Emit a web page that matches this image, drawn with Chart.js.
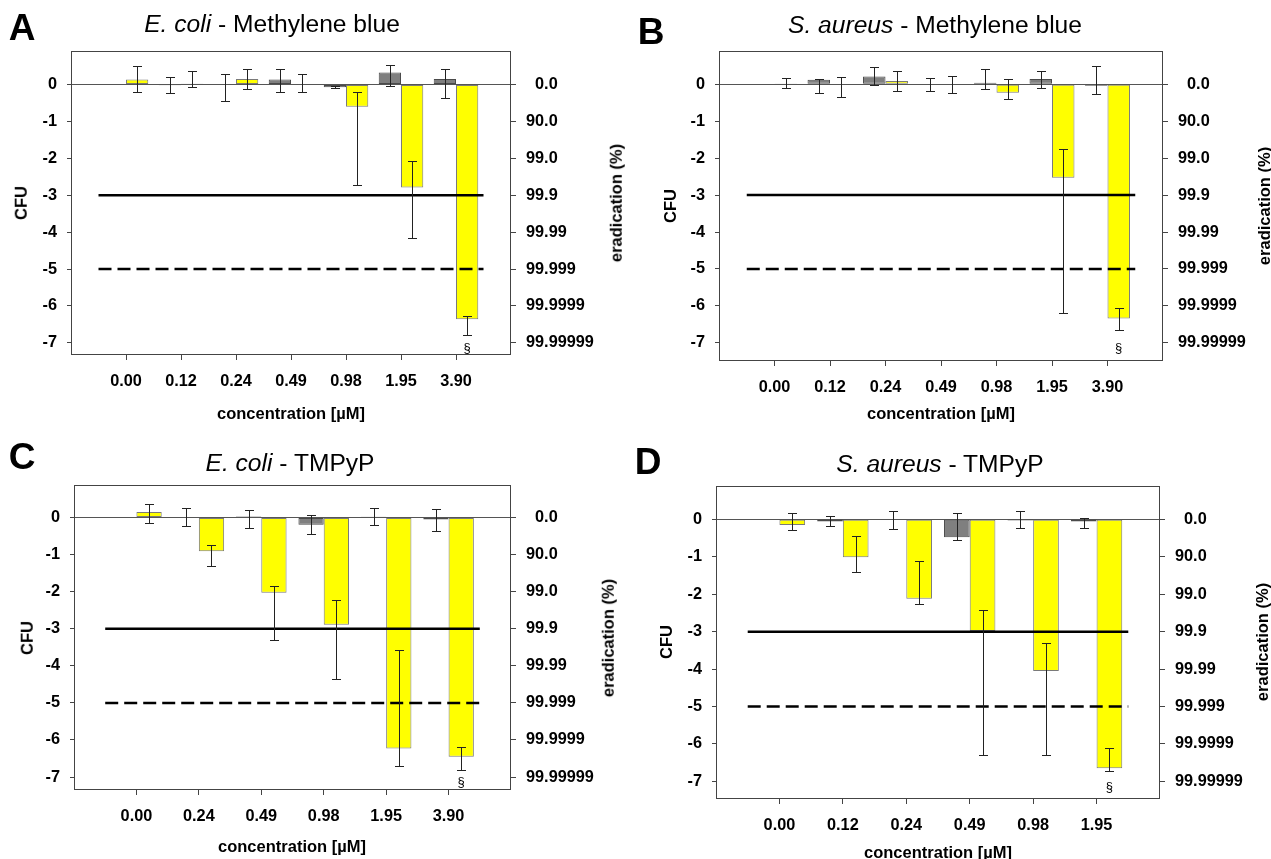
<!DOCTYPE html>
<html>
<head>
<meta charset="utf-8">
<script src="https://cdn.jsdelivr.net/npm/chart.js@4.4.1/dist/chart.umd.min.js"></script>
<style>
html,body{margin:0;padding:0;background:#fff;overflow:hidden;}
#wrap{position:relative;width:1271px;height:859px;overflow:hidden;font-family:"Liberation Sans",Arial,Helvetica,sans-serif;color:#000;}
canvas{position:absolute;}
.t{position:absolute;white-space:nowrap;transform:translate(-50%,-50%);line-height:1;}
.r{transform:translate(-50%,-50%) rotate(-90deg);}
.letter{font-weight:bold;font-size:37px;}
.title{font-size:24.6px;}
.ax{font-weight:bold;font-size:16.5px;}
</style>
</head>
<body>
<div id="wrap">
  <canvas id="cA" width="636" height="430" style="left:0;top:0;"></canvas>
  <canvas id="cB" width="635" height="430" style="left:636px;top:0;"></canvas>
  <canvas id="cC" width="636" height="429" style="left:0;top:430px;"></canvas>
  <canvas id="cD" width="635" height="429" style="left:636px;top:430px;"></canvas>

  <div class="t letter" style="left:22px;top:27px;">A</div>
  <div class="t letter" style="left:651px;top:31px;">B</div>
  <div class="t letter" style="left:22px;top:456px;">C</div>
  <div class="t letter" style="left:648px;top:461px;">D</div>

  <div class="t title" style="left:272px;top:24px;"><i>E. coli</i> - Methylene blue</div>
  <div class="t title" style="left:935px;top:25px;"><i>S. aureus</i> - Methylene blue</div>
  <div class="t title" style="left:290px;top:463px;"><i>E. coli</i> - TMPyP</div>
  <div class="t title" style="left:940px;top:464px;"><i>S. aureus</i> - TMPyP</div>

  <div class="t ax r" style="left:21px;top:203px;">CFU</div>
  <div class="t ax r" style="left:670px;top:206px;">CFU</div>
  <div class="t ax r" style="left:27px;top:638px;">CFU</div>
  <div class="t ax r" style="left:666px;top:642px;">CFU</div>

  <div class="t ax" style="left:291px;top:413px;">concentration [µM]</div>
  <div class="t ax" style="left:941px;top:413px;">concentration [µM]</div>
  <div class="t ax" style="left:292px;top:846px;">concentration [µM]</div>
  <div class="t ax" style="left:938px;top:852px;">concentration [µM]</div>

  <div class="t ax r" style="left:616px;top:203px;">eradication (%)</div>
  <div class="t ax r" style="left:1264px;top:206px;">eradication (%)</div>
  <div class="t ax r" style="left:608px;top:638px;">eradication (%)</div>
  <div class="t ax r" style="left:1262px;top:642px;">eradication (%)</div>
</div>
<script>
// ---------------- DATA ----------------
const yTickVals = [0, -1, -2, -3, -4, -5, -6, -7];
const eradLabels = ['  0.0', '90.0', '99.0', '99.9', '99.99', '99.999', '99.9999', '99.99999'];
const thresholdSolid = -3;
const thresholdDashed = -5;
const sigMarkY = -7.15;

// Panel A: E. coli - Methylene blue
const catsA = ['0.00', '0.12', '0.24', '0.49', '0.98', '1.95', '3.90'];
const darkA = [null, -0.02, 0.0, 0.14, -0.07, 0.33, 0.15];
const darkErrA = [null, [-0.24, 0.2], [-0.44, 0.29], [-0.21, 0.43], [-0.1, -0.03], [-0.05, 0.54], [-0.37, 0.41]];
const lightA = [0.14, 0.02, 0.15, -0.01, -0.6, -2.79, -6.36];
const lightErrA = [[-0.19, 0.5], [-0.07, 0.38], [-0.12, 0.43], [-0.2, 0.3], [-2.72, -0.2], [-4.15, -2.07], [-6.8, -6.26]];
const marksA = [null, null, null, null, null, null, '§'];

// Panel B: S. aureus - Methylene blue
const catsB = ['0.00', '0.12', '0.24', '0.49', '0.98', '1.95', '3.90'];
const darkB = [null, 0.12, 0.21, 0.0, 0.04, 0.14, -0.04];
const darkErrB = [null, [-0.23, 0.14], [-0.02, 0.48], [-0.19, 0.18], [-0.12, 0.42], [-0.1, 0.36], [-0.27, 0.5]];
const lightB = [0.02, 0.0, 0.09, 0.0, -0.23, -2.53, -6.34];
const lightErrB = [[-0.09, 0.16], [-0.34, 0.2], [-0.18, 0.36], [-0.25, 0.23], [-0.4, 0.14], [-6.2, -1.74], [-6.66, -6.05]];
const marksB = [null, null, null, null, null, null, '§'];

// Panel C: E. coli - TMPyP
const catsC = ['0.00', '0.24', '0.49', '0.98', '1.95', '3.90'];
const darkC = [null, 0.0, 0.03, -0.19, 0.02, -0.05];
const darkErrC = [null, [-0.23, 0.26], [-0.28, 0.2], [-0.45, 0.06], [-0.19, 0.26], [-0.35, 0.23]];
const lightC = [0.15, -0.91, -2.03, -2.89, -6.23, -6.45];
const lightErrC = [[-0.14, 0.36], [-1.3, -0.75], [-3.29, -1.85], [-4.35, -2.23], [-6.69, -3.57], [-6.81, -6.2]];
const marksC = [null, null, null, null, null, '§'];

// Panel D: S. aureus - TMPyP
const catsD = ['0.00', '0.12', '0.24', '0.49', '0.98', '1.95'];
const darkD = [null, -0.06, 0.0, -0.48, -0.03, -0.06];
const darkErrD = [null, [-0.18, 0.1], [-0.26, 0.22], [-0.54, 0.17], [-0.23, 0.21], [-0.23, 0.03]];
const lightD = [-0.15, -1.01, -2.12, -2.98, -4.05, -6.65];
const lightErrD = [[-0.29, 0.18], [-1.42, -0.44], [-2.26, -1.1], [-6.3, -2.42], [-6.29, -3.31], [-6.72, -6.12]];
const marksD = [null, null, null, null, null, '§'];

// ---------------- RENDERING ----------------
Chart.defaults.font.family = "'Liberation Sans', Arial, Helvetica, sans-serif";
Chart.defaults.font.size = 16.3;
Chart.defaults.font.weight = 'bold';
Chart.defaults.color = '#000';

const extras = {
  id: 'extras',
  afterDatasetsDraw(chart) {
    const ctx = chart.ctx, ys = chart.scales.y;
    ctx.save();
    chart.data.datasets.forEach((ds, di) => {
      const meta = chart.getDatasetMeta(di);
      if (ds.errBars) {
        ctx.strokeStyle = '#222';
        ctx.lineWidth = 1;
        meta.data.forEach((el, i) => {
          const e = ds.errBars[i];
          if (!e) return;
          const x = Math.round(el.x) + 0.5;
          const y1 = Math.round(ys.getPixelForValue(e[0])) + 0.5;
          const y2 = Math.round(ys.getPixelForValue(e[1])) + 0.5;
          const cap = 4.5;
          ctx.beginPath();
          ctx.moveTo(x, y1); ctx.lineTo(x, y2);
          ctx.moveTo(x - cap, y1); ctx.lineTo(x + cap, y1);
          ctx.moveTo(x - cap, y2); ctx.lineTo(x + cap, y2);
          ctx.stroke();
        });
      }
      if (ds.marks) {
        ctx.fillStyle = '#000';
        ctx.font = "13px 'Liberation Sans', Arial, sans-serif";
        ctx.textAlign = 'center';
        ctx.textBaseline = 'middle';
        meta.data.forEach((el, i) => {
          const m = ds.marks[i];
          if (!m) return;
          ctx.fillText(m, el.x, ys.getPixelForValue(sigMarkY));
        });
      }
    });
    ctx.restore();
  },
  afterDraw(chart) {
    const a = chart.chartArea, ctx = chart.ctx;
    ctx.save();
    ctx.strokeStyle = '#444';
    ctx.lineWidth = 1;
    ctx.strokeRect(Math.round(a.left) + 0.5, Math.round(a.top) + 0.5,
                   Math.round(a.right) - Math.round(a.left) - 1, Math.round(a.bottom) - Math.round(a.top) - 1);
    ctx.restore();
  }
};

function makePanel(id, cats, dark, darkErr, light, lightErr, marks, layout) {
  const n = cats.length;
  const toXY = arr => arr.map((v, i) => ({ x: i, y: v }));
  const setTicks = vals => scale => { scale.ticks = vals.map(v => ({ value: v })); };
  new Chart(document.getElementById(id), {
    type: 'bar',
    data: {
      datasets: [
        {
          type: 'line', order: 0,
          data: [{ x: -0.5, y: thresholdSolid }, { x: n - 0.5, y: thresholdSolid }],
          borderColor: '#000', borderWidth: 2.5, pointRadius: 0
        },
        {
          type: 'line', order: 0,
          data: [{ x: -0.5, y: thresholdDashed }, { x: n - 0.5, y: thresholdDashed }],
          borderColor: '#000', borderWidth: 2.5, pointRadius: 0, borderDash: [13, 6]
        },
        {
          order: 1, label: 'dark',
          data: toXY(dark), errBars: darkErr,
          backgroundColor: '#7f7f7f', borderColor: '#4a4a4a', borderWidth: 1, borderSkipped: false,
          categoryPercentage: 0.81, barPercentage: 1.0
        },
        {
          order: 1, label: 'light',
          data: toXY(light), errBars: lightErr, marks: marks,
          backgroundColor: '#ffff00', borderColor: '#7a7a7a', borderWidth: 1, borderSkipped: false,
          categoryPercentage: 0.81, barPercentage: 1.0
        }
      ]
    },
    options: {
      responsive: false, animation: false, devicePixelRatio: 1,
      layout: { padding: { top: layout.T, left: 0, right: 0, bottom: 0 } },
      plugins: { legend: { display: false }, tooltip: { enabled: false } },
      scales: {
        x: {
          type: 'linear', min: -1, max: n, offset: false,
          afterBuildTicks: setTicks(cats.map((c, i) => i)),
          afterFit: s => { s.height = layout.XH; },
          ticks: { callback: v => cats[Math.round(v)], padding: 12, maxRotation: 0, autoSkip: false },
          grid: { drawOnChartArea: false, offset: false, tickLength: 5, color: '#444', tickColor: '#444' },
          border: { display: false }
        },
        y: {
          type: 'linear', position: 'left', min: layout.yMin, max: layout.yMax,
          afterBuildTicks: setTicks(yTickVals),
          afterFit: s => { s.width = layout.L; },
          ticks: { callback: v => String(v), padding: 10 },
          grid: {
            color: c => (c.tick && c.tick.value === 0) ? '#555' : 'rgba(0,0,0,0)',
            tickColor: '#444', tickLength: 4
          },
          border: { display: false }
        },
        y2: {
          type: 'linear', position: 'right', min: layout.yMin, max: layout.yMax,
          afterBuildTicks: setTicks(yTickVals),
          afterFit: s => { s.width = layout.RW; },
          ticks: { callback: v => eradLabels[Math.round(-v)], padding: 10 },
          grid: { drawOnChartArea: false, tickColor: '#444', tickLength: 5 },
          border: { display: false }
        }
      }
    },
    plugins: [extras]
  });
}

makePanel('cA', catsA, darkA, darkErrA, lightA, lightErrA, marksA,
  { L: 71, RW: 636 - 511, T: 51, XH: 430 - 355, yMin: -7.33, yMax: 0.91 });
makePanel('cB', catsB, darkB, darkErrB, lightB, lightErrB, marksB,
  { L: 83, RW: 635 - 527, T: 51, XH: 430 - 361, yMin: -7.49, yMax: 0.9 });
makePanel('cC', catsC, darkC, darkErrC, lightC, lightErrC, marksC,
  { L: 74, RW: 636 - 511, T: 55, XH: 429 - 360, yMin: -7.35, yMax: 0.88 });
makePanel('cD', catsD, darkD, darkErrD, lightD, lightErrD, marksD,
  { L: 80, RW: 635 - 524, T: 56, XH: 429 - 369, yMin: -7.47, yMax: 0.89 });
</script>
</body>
</html>
